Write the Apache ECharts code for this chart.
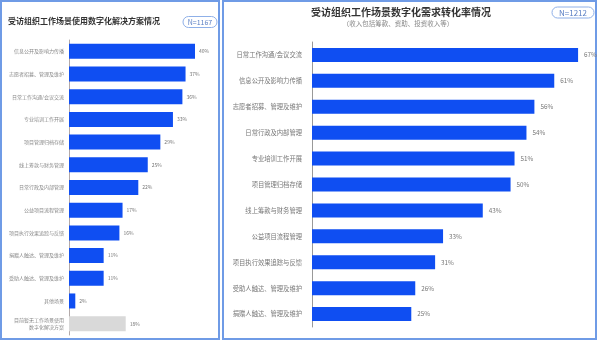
<!DOCTYPE html>
<html><head><meta charset="utf-8">
<script src="https://cdn.jsdelivr.net/npm/echarts@6/dist/echarts.min.js"></script>
<style>html,body{margin:0;padding:0;background:#fff}#c{width:600px;height:342px}</style>
</head><body><div id="c"></div>
<script>
const leftTitle = '受访组织工作场景使用数字化解决方案情况';
const leftN = 'N=1167';
const leftCats = ['信息公开及影响力传播','志愿者招募、管理及维护','日常工作沟通/会议交流','专业培训工作开展','项目管理归档存储','线上筹款与财务管理','日常行政及内部管理','公益项目流程管理','项目执行效果追踪与反馈','捐赠人触达、管理及维护','受助人触达、管理及维护','其他场景','目前暂无工作场景使用\n数字化解决方案'];
const leftVals = [40,37,36,33,29,25,22,17,16,11,11,2,18];
const leftGrayIndex = 12;

const rightTitle = '受访组织工作场景数字化需求转化率情况';
const rightSub = '（收入包括筹款、资助、投资收入等）';
const rightN = 'N=1212';
const rightCats = ['日常工作沟通/会议交流','信息公开及影响力传播','志愿者招募、管理及维护','日常行政及内部管理','专业培训工作开展','项目管理归档存储','线上筹款与财务管理','公益项目流程管理','项目执行效果追踪与反馈','受助人触达、管理及维护','捐赠人触达、管理及维护'];
const rightVals = [67,61,56,54,51,50,43,33,31,26,25];

const FONT = '"Noto Sans CJK SC", "Noto Sans", sans-serif';
const BLUE = '#0f4ef2';
const BORDER = '#6f9be6';

const chart = echarts.init(document.getElementById('c'));
chart.setOption({
  backgroundColor: '#fff',
  animation: false,
  textStyle: {fontFamily: FONT},
  title: [
    {text: leftTitle, left: 8, top: 17, padding: 0, textStyle: {fontSize: 8, fontWeight: 'bold', color: '#333', fontFamily: FONT}},
    {text: rightTitle, left: 401, top: 7, padding: 0, textAlign: 'center', textStyle: {fontSize: 10, fontWeight: 'bold', color: '#333', fontFamily: FONT}},
    {text: rightSub, left: 398, top: 20, padding: 0, textAlign: 'center', textStyle: {fontSize: 6.5, fontWeight: 'normal', color: '#888', fontFamily: FONT}}
  ],
  grid: [
    {left: 69, top: 40, width: 141.75, height: 295},
    {left: 312, top: 42, width: 278, height: 285}
  ],
  xAxis: [
    {gridIndex: 0, type: 'value', min: 0, max: 45, show: false},
    {gridIndex: 1, type: 'value', min: 0, max: 70, show: false}
  ],
  yAxis: [
    {gridIndex: 0, type: 'category', data: leftCats, inverse: true,
     axisLine: {show: true, lineStyle: {color: '#b3aaaa', width: 1}},
     axisTick: {show: false},
     axisLabel: {fontSize: 5, color: '#888', margin: 5, lineHeight: 7, fontFamily: FONT}},
    {gridIndex: 1, type: 'category', data: rightCats, inverse: true,
     axisLine: {show: true, lineStyle: {color: '#999', width: 1}},
     axisTick: {show: false},
     axisLabel: {fontSize: 6.3, color: '#777', margin: 10, fontFamily: FONT}}
  ],
  series: [
    {type: 'bar', xAxisIndex: 0, yAxisIndex: 0, barWidth: 15,
     data: leftVals.map((v, i) => ({value: v, itemStyle: {color: i === leftGrayIndex ? '#d9d9d9' : BLUE}})),
     label: {show: true, position: 'right', distance: 4, fontSize: 5, color: '#777', formatter: '{c}%', fontFamily: FONT}},
    {type: 'bar', xAxisIndex: 1, yAxisIndex: 1, barWidth: 14,
     itemStyle: {color: BLUE},
     data: rightVals,
     label: {show: true, position: 'right', distance: 6, fontSize: 6.3, color: '#777', formatter: '{c}%', fontFamily: FONT}}
  ],
  graphic: [
    {type: 'rect', shape: {x: 1, y: 1, width: 218, height: 338}, style: {fill: 'none', stroke: BORDER, lineWidth: 2}},
    {type: 'rect', shape: {x: 223, y: 1, width: 373, height: 338}, style: {fill: 'none', stroke: BORDER, lineWidth: 2}},
    {type: 'rect', shape: {x: 183, y: 16.5, width: 34, height: 11, r: 5.5}, style: {fill: '#fff', stroke: '#8fb0e8', lineWidth: 1}},
    {type: 'text', x: 200, y: 22, style: {text: leftN, fontSize: 7, fill: '#5a7fc4', textAlign: 'center', textVerticalAlign: 'middle', fontFamily: FONT}},
    {type: 'rect', shape: {x: 552, y: 7, width: 42, height: 11, r: 5.5}, style: {fill: '#fff', stroke: '#8fb0e8', lineWidth: 1}},
    {type: 'text', x: 573, y: 12.5, style: {text: rightN, fontSize: 8, fill: '#5a7fc4', textAlign: 'center', textVerticalAlign: 'middle', fontFamily: FONT}}
  ]
});
</script></body></html>
